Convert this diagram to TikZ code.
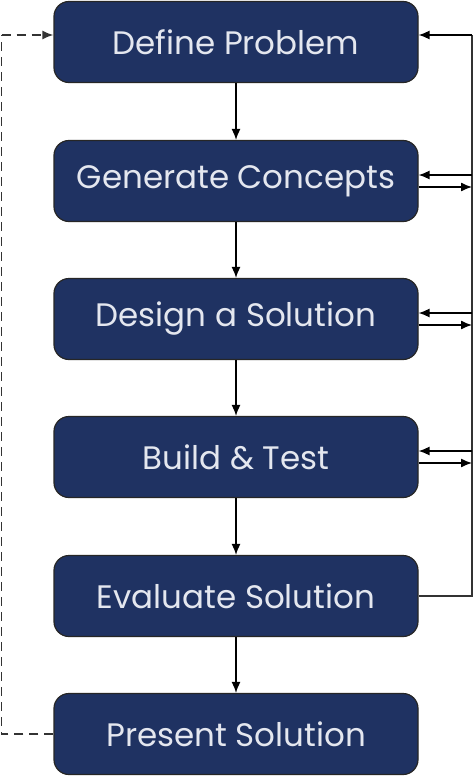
\documentclass[tikz,border=0pt]{standalone}
\usepackage{fontspec}
\setmainfont{Poppins}
\usetikzlibrary{arrows.meta,calc}
\definecolor{boxfill}{HTML}{1F3262}
\definecolor{boxtext}{HTML}{E4E7EF}
\definecolor{dashgray}{HTML}{333333}
\tikzset{
  stepbox/.style={draw=black!85, line width=1.2pt, fill=boxfill, rounded corners=15pt,
    minimum width=364pt, minimum height=81pt, text=boxtext, inner sep=0pt,
    font=\fontsize{32.5}{36}\selectfont},
  flow/.style={draw=black, line width=1.3pt, -{Latex[length=11pt,width=9pt]}},
  plain/.style={draw=black!80, line width=1.6pt},
  dashline/.style={draw=dashgray, line width=1.6pt, dash pattern=on 9pt off 6pt}
}
\begin{document}
\begin{tikzpicture}[x=1pt,y=-1pt]
\useasboundingbox (0,0) rectangle (474,779);
\fill[white] (0,0) rectangle (474,779);
\node[stepbox] (d1) at (236,42) {Define Problem};
\node[stepbox] (d2) at (236,181) {Generate Concepts};
\node[stepbox] (d3) at (236,319) {Design a Solution};
\node[stepbox] (d4) at (236,457) {Build \& Test};
\node[stepbox] (d5) at (236,596) {Evaluate Solution};
\node[stepbox] (d6) at (236,734) {Present Solution};
% down arrows
\draw[flow] (d1) -- (d2);
\draw[flow] (d2) -- (d3);
\draw[flow] (d3) -- (d4);
\draw[flow] (d4) -- (d5);
\draw[flow] (d5) -- (d6);
% right feedback bus
\coordinate (rtop) at (472,35);
\coordinate (rbot) at (472,596);
\draw[plain] (d5.east) -- (rbot) -- (rtop);
\draw[flow] (rtop) -- (d1.east |- rtop);
\foreach \n in {d2,d3,d4}{
  \coordinate (\n in) at ($(\n.east)+(0,-6)$);
  \coordinate (\n out) at ($(\n.east)+(0,6)$);
  \draw[flow] (\n in -| rtop) -- (\n in);
  \draw[flow] (\n out) -- (\n out -| rtop);
}
% left dashed loop
\coordinate (lbot) at (1.5,734);
\coordinate (ltop) at (1.5,35);
\draw[dashline] (d6.west) -- (lbot) -- (ltop);
\draw[dashline, -{Latex[length=11pt,width=9pt]}] (ltop) -- (d1.west |- ltop);
\end{tikzpicture}
\end{document}
